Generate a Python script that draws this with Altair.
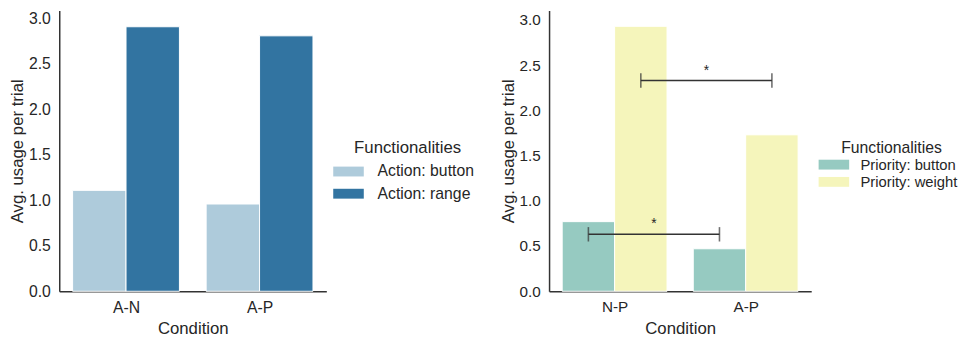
import altair as alt
import pandas as pd

# ---------------- data ----------------
left_conditions = ["A-N", "A-P"]
left_funcs = ["Action: button", "Action: range"]
left_button = [1.11, 0.96]
left_range = [2.91, 2.81]
left_colors = ["#aecbdb", "#3274a1"]

right_conditions = ["N-P", "A-P"]
right_funcs = ["Priority: button", "Priority: weight"]
right_button = [0.77, 0.47]
right_weight = [2.93, 1.73]
right_colors = ["#96cac1", "#f5f5bb"]

# significance brackets between the two conditions (per functionality)
sig_funcs = ["Priority: weight", "Priority: button"]
sig_levels = [2.33, 0.63]
sig_labels = ["*", "*"]

y_ticks = [0.0, 0.5, 1.0, 1.5, 2.0, 2.5, 3.0]

FONT = "Liberation Sans"
TEXT = "#262626"
AXIS = "#333333"
BAR_W = 0.4


def bars_df(conds, funcs, series):
    rows = []
    for i, c in enumerate(conds):
        for j, f in enumerate(funcs):
            x0 = i - BAR_W + BAR_W * j
            rows.append({"cond": c, "func": f, "value": series[j][i],
                         "x0": x0, "x1": x0 + BAR_W})
    return pd.DataFrame(rows)


def label_expr(conds):
    arr = ",".join("'" + c + "'" for c in conds)
    return "[" + arr + "][datum.value]"


def x_enc(conds, lab_size):
    return alt.X(
        "x0:Q",
        scale=alt.Scale(domain=[-0.5, 1.5], nice=False, zero=False),
        axis=alt.Axis(values=[0, 1], labelExpr=label_expr(conds), title="Condition",
                      ticks=False, grid=False, labelPadding=9, titlePadding=5,
                      labelFontSize=lab_size, labelAngle=0),
    )


def y_enc(top, lab_size):
    return alt.Y(
        "value:Q",
        scale=alt.Scale(domain=[0, top], nice=False),
        axis=alt.Axis(values=y_ticks, format=".1f", title="Avg. usage per trial",
                      ticks=False, grid=False, labelPadding=9, titlePadding=2,
                      labelFontSize=lab_size),
    )


def legend(x, y, title_size, lab_size, row_pad, title_pad, lab_off):
    return alt.Legend(
        orient="none", legendX=x, legendY=y, title="Functionalities",
        titleFont=FONT, titleFontSize=title_size, titleFontWeight="normal",
        titleColor=TEXT, titleAnchor="middle", titlePadding=title_pad,
        labelFont=FONT, labelFontSize=lab_size, labelColor=TEXT,
        labelOffset=lab_off, rowPadding=row_pad, padding=0,
        symbolType="M-3.1,-1H3.1V1H-3.1Z", symbolSize=100,
        symbolStrokeWidth=0, symbolOpacity=1,
    )


# ---------------- left chart ----------------
ldf = bars_df(left_conditions, left_funcs, [left_button, left_range])
left = alt.Chart(ldf).mark_bar(stroke="white", strokeWidth=1).encode(
    x=x_enc(left_conditions, 16),
    x2="x1:Q",
    y=y_enc(3.09, 16),
    y2=alt.datum(0),
    color=alt.Color("func:N", scale=alt.Scale(domain=left_funcs, range=left_colors),
                    legend=legend(285.5, 131.5, 17, 16, 6.5, 7, 21.5)),
).properties(width=271, height=285)

# ---------------- right chart ----------------
rdf = bars_df(right_conditions, right_funcs, [right_button, right_weight])
r_bars = alt.Chart(rdf).mark_bar(stroke="white", strokeWidth=1).encode(
    x=x_enc(right_conditions, 15.5),
    x2="x1:Q",
    y=y_enc(3.106, 15.5),
    y2=alt.datum(0),
    color=alt.Color("func:N", scale=alt.Scale(domain=right_funcs, range=right_colors),
                    legend=legend(281.5, 132, 16, 15, 1.5, 1, 19.5)),
)

sig_rows = []
end_rows = []
for f, lvl, lab in zip(sig_funcs, sig_levels, sig_labels):
    j = right_funcs.index(f)
    xa = 0 - BAR_W / 2 + BAR_W * j
    xb = 1 - BAR_W / 2 + BAR_W * j
    sig_rows.append({"x0": xa, "x1": xb, "xm": (xa + xb) / 2, "value": lvl, "label": lab})
    end_rows.append({"x0": xa, "value": lvl})
    end_rows.append({"x0": xb, "value": lvl})
sdf = pd.DataFrame(sig_rows)
edf = pd.DataFrame(end_rows)

r_rule = alt.Chart(sdf).mark_rule(color=AXIS, strokeWidth=1.6).encode(
    x="x0:Q", x2="x1:Q", y="value:Q")
r_caps = alt.Chart(edf).mark_tick(orient="vertical", size=14.6, thickness=1.6,
                                  color=AXIS).encode(x="x0:Q", y="value:Q")
r_star = alt.Chart(sdf).mark_text(font=FONT, fontSize=14, color=TEXT,
                                  baseline="alphabetic", dy=-6).encode(
    x=alt.X("xm:Q"), y="value:Q", text="label:N")

right = alt.layer(r_bars, r_rule, r_caps, r_star).properties(width=266, height=285)

chart = alt.hconcat(left, right, spacing=226, bounds="flush").resolve_scale(
    color="independent"
).resolve_legend(color="independent").properties(
    padding={"left": 0, "top": 0, "right": 5, "bottom": 0}
).configure_view(stroke=None).configure_axis(
    labelFont=FONT, titleFont=FONT, labelColor=TEXT, titleColor=TEXT,
    titleFontSize=17, titleFontWeight="normal",
    domainColor=AXIS, domainWidth=1.5,
)

chart.save("out.html", embed_options={"renderer": "svg", "actions": False})
